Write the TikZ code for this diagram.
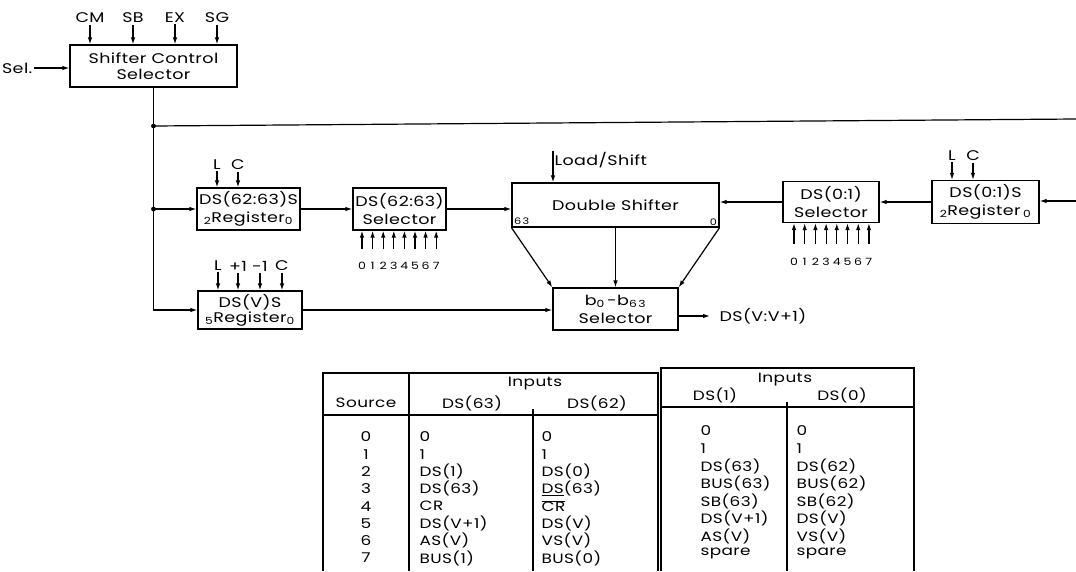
\documentclass[tikz,border=0pt]{standalone}
\usepackage{fontspec}
\setmainfont{Poppins}[FakeStretch=1.25,LetterSpace=3]
\usetikzlibrary{arrows.meta}

\tikzset{
  blk/.style={draw, minimum height=42pt, inner sep=1pt, align=center,
    font=\fontsize{14}{18}\selectfont},
  sig/.style={font=\fontsize{14}{16}\selectfont, inner sep=1pt},
  dig/.style={font=\fontsize{10}{11}\selectfont, inner sep=1pt},
  corner/.style={font=\fontsize{9}{10}\selectfont, inner sep=2pt},
  tab/.style={font=\fontsize{13.5}{15}\selectfont, inner sep=1pt},
}

\begin{document}
\begin{tikzpicture}[x=1pt, y=-1pt, >={Latex[length=7pt,width=4.5pt]}, line width=1.2pt]
\useasboundingbox (0,0) rectangle (1076,571);

% blocks
\node[blk, minimum width=167pt, font=\fontsize{14}{16}\selectfont] (scs) at (153.5,66) {Shifter Control\\Selector};
\node[blk, minimum width=103pt] (regA) at (248.5,209) {DS(62:63)S\\\textsubscript{2}Register\textsubscript{0}};
\node[blk, minimum width=93pt] (selA) at (399.5,209) {DS(62:63)\\Selector};
\node[blk, minimum width=207pt, minimum height=44pt] (dsh) at (615.5,205) {Double Shifter};
\node[blk, minimum width=96pt, minimum height=41pt] (selB) at (831,202) {DS(0:1)\\Selector};
\node[blk, minimum width=107pt, minimum height=43pt] (regB) at (985.5,202) {DS(0:1)S\\\textsubscript{2}Register\,\textsubscript{0}};
\node[blk, minimum width=104pt, minimum height=38pt, inner sep=0pt, font=\fontsize{14}{15}\selectfont] (regV) at (250,310) {DS(V)S\\\textsubscript{5}Register\textsubscript{0}};
\node[blk, minimum width=125pt] (bsel) at (615.5,309) {b\textsubscript{0}\,-b\textsubscript{6\,3}\\Selector};
\node[corner, anchor=south west] (d63) at (dsh.south west) {6\,3};
\node[corner, anchor=south east] (d0) at (dsh.south east) {0};

% control inputs
\node[sig, anchor=east] (sel) at (34,68) {Sel.};
\draw[->] (sel.east) -- (sel -| scs.west);
\foreach \n/\x/\t in {cm/90/CM, sb/133/SB, ex/175/EX, sg/217/SG}{
  \node[sig] (\n) at (\x,18) {\t};
  \draw[->] (\n.south) -- (\n |- scs.north);
}
\foreach \n/\x/\t in {la/217/L, ca/238/C}{
  \node[sig] (\n) at (\x,165) {\t};
  \draw[->] (\n.south) -- (\n |- regA.north);
}
\foreach \n/\x/\t in {lb/952/L, cb/973/C}{
  \node[sig] (\n) at (\x,156) {\t};
  \draw[->] (\n.south) -- (\n |- regB.north);
}
\foreach \n/\x/\t in {lv/218/L, pv/238/+1, mv/260/-1, cv/282/C}{
  \node[sig] (\n) at (\x,266) {\t};
  \draw[->] (\n.south) -- (\n |- regV.north);
}
\node[sig, anchor=west] (ld) at (553,160) {Load/Shift};
\draw[->] (ld.north west) -- (ld.north west |- dsh.north);

% selector source lines
\foreach \i in {0,...,7}{
  \node[dig] (a\i) at (362+10.6*\i,266) {\i};
  \draw[->] ([yshift=12pt]a\i.north) -- (a\i |- selA.south);
  \node[dig] (b\i) at (794+10.7*\i,262) {\i};
  \draw[->] ([yshift=13pt]b\i.north) -- (b\i |- selB.south);
}

% control bus
\coordinate (j1) at (153.5,126);
\coordinate (j2) at (153.5,209);
\coordinate (topR) at (1076,119);
\coordinate (rightR) at (1076,201);
\draw (j1) -- (topR);
\draw[->] (scs.south) |- (regV.west);
\draw[->] (j2) -- (regA.west);
\fill (j1) circle (2.4pt);
\fill (j2) circle (2.4pt);

% data path
\draw[->] (regA.east) -- (regA.east -| selA.west);
\draw[->] (selA.east) -- (selA.east -| dsh.west);
\draw[->] (selB.west) -- (selB.west -| dsh.east);
\draw[->] (regB.west) -- (regB.west -| selB.east);
\draw[->] (rightR) -- (rightR -| regB.east);
\draw[->] (dsh.south west) -- (bsel.north west);
\draw[->] (dsh.south) -- (bsel.north);
\draw[->] (dsh.south east) -- (bsel.north east);
\draw[->] (regV.east) -- (regV.east -| bsel.west);
\node[sig, anchor=west] (out) at (718,316) {DS(V:V+1)};
\draw[->] (out.west -| bsel.east) -- ([xshift=-8pt]out.west);

% source table, left half
\draw (323,571) -- (323,373) -- (658,373) -- (658,571);
\draw (323,415) -- (658,415);
\draw (409,373) -- (409,571);
\draw (533,409) -- (533,571);
% right half
\draw (661,571) -- (661,368) -- (914,368) -- (914,571);
\draw (661,407) -- (914,407);
\draw (787,402) -- (787,571);

\node[tab] (src) at (366,403) {Source};
\node[tab] (inL) at (535,384) {Inputs};
\node[tab] (h63) at (472,403) {DS(63)};
\node[tab] (h62) at (597,403) {DS(62)};
\node[tab] (inR) at (785,380) {Inputs};
\node[tab] (h1) at (715,395) {DS(1)};
\node[tab] (h0) at (842,395) {DS(0)};

\foreach \r/\p/\q/\u/\w [count=\k from 0] in {
  0/0/0/0/0, 1/1/1/1/1,
  2/DS(1)/DS(0)/DS(63)/DS(62),
  3/DS(63)/\underline{DS}(63)/BUS(63)/BUS(62),
  4/CR/$\overline{\mbox{CR}}$/SB(63)/SB(62),
  5/DS(V+1)/DS(V)/DS(V+1)/DS(V),
  6/AS(V)/VS(V)/AS(V)/VS(V),
  7/BUS(1)/BUS(0)/spare/spare}{
  \node[tab] (s\k) at (366,437+17.3*\k) {\r};
  \node[tab, anchor=west] (p\k) at (418,437+17.3*\k) {\p};
  \node[tab, anchor=west] (q\k) at (540,437+17.3*\k) {\q};
  \node[tab, anchor=west] (u\k) at (699,431+17.5*\k) {\u};
  \node[tab, anchor=west] (w\k) at (795,431+17.5*\k) {\w};
}
\end{tikzpicture}
\end{document}
